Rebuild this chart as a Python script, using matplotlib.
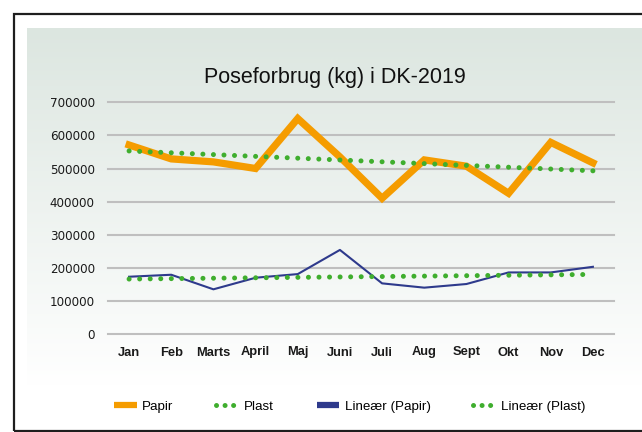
import matplotlib
matplotlib.use("Agg")
import matplotlib.pyplot as plt
import numpy as np
from matplotlib.lines import Line2D
from matplotlib.patches import Rectangle

months = ["Jan", "Feb", "Marts", "April", "Maj", "Juni", "Juli", "Aug", "Sept", "Okt", "Nov", "Dec"]
papir = [571000, 529000, 520000, 500000, 651000, 535000, 410000, 526000, 507000, 425000, 579000, 517000]
plast = [173000, 179000, 135000, 170000, 181000, 254000, 153000, 140000, 151000, 186000, 186000, 203000]
# trend lines, read at Jan and Dec
trend_papir = [553000, 493000]
trend_plast = [166000, 180000]
yticks = [0, 100000, 200000, 300000, 400000, 500000, 600000, 700000]

font = "Liberation Sans"
orange = "#f59c00"
navy = "#2e3a8c"
green = "#3fae2e"
dots = (0, (0.01, 2.1))

W, H = 642, 432
fig = plt.figure(figsize=(W / 100, H / 100), dpi=100)

# gradient panel behind the chart
bg = fig.add_axes([27 / W, (H - 386) / H, 1 - 27 / W, (386 - 28) / H], zorder=-10)
top = np.array([220, 230, 224]) / 255
bot = np.array([255, 255, 255]) / 255
t = np.linspace(0, 1, 256)[:, None]
grad = top * (1 - t) + bot * t
bg.imshow(grad[:, None, :], aspect="auto", extent=[0, 1, 0, 1])
bg.axis("off")

# outer frame
fig.patches.append(Rectangle((13.5 / W, 1.5 / H), 1.0, (430.5 - 13.5) / H, transform=fig.transFigure,
                             fill=False, edgecolor="#1e1e1e", linewidth=1.6, zorder=5))

ax = fig.add_axes([108 / W, (H - 334) / H, (614 - 108) / W, (334 - 102.3) / H])
ax.patch.set_alpha(0)
x = np.arange(len(months))

ax.plot(x, papir, color=orange, lw=5.2, solid_joinstyle="miter", zorder=3)
ax.plot(x, plast, color=navy, lw=1.5, zorder=3)
ax.plot([x[0], x[-1]], trend_papir, color=green, lw=3.6, linestyle=dots, dash_capstyle="round", zorder=4)
ax.plot([x[0], x[-1]], trend_plast, color=green, lw=3.6, linestyle=dots, dash_capstyle="round", zorder=4)

ax.set_xlim(-0.5, len(months) - 0.5)
ax.set_ylim(0, 700000)
ax.set_yticks(yticks)
ax.set_yticklabels([str(v) for v in yticks], fontsize=8.6, family="DejaVu Sans", color="#1a1a1a")
ax.set_xticks(x)
ax.set_xticklabels(months, fontsize=9.3, family=font, fontweight="bold", color="#1a1a1a")
ax.tick_params(length=0)
ax.tick_params(axis="y", pad=9.5)
ax.tick_params(axis="x", pad=9)
for s in ax.spines.values():
    s.set_visible(False)
ax.yaxis.grid(True, color="#bfbfbf", lw=1.5)
for gl in ax.get_ygridlines():
    gl.set_clip_on(False)
ax.set_axisbelow(True)

fig.text(335 / W, 1 - 78 / H, "Poseforbrug (kg) i DK-2019", ha="center", va="center",
         fontsize=15.5, family=font, color="#111111")

handles = [
    Line2D([], [], color=orange, lw=4.5, solid_capstyle="butt"),
    Line2D([], [], color=green, lw=3.6, linestyle=(0, (0.01, 1.7)), dash_capstyle="round"),
    Line2D([], [], color=navy, lw=4.5, solid_capstyle="butt"),
    Line2D([], [], color=green, lw=3.6, linestyle=(0, (0.01, 1.7)), dash_capstyle="round"),
]
labels = ["Papir", "Plast", "Lineær (Papir)", "Lineær (Plast)"]
fig.legend(handles, labels, loc="center", bbox_to_anchor=(350 / W, 1 - 406.5 / H), ncol=4,
           frameon=False, handlelength=1.7, handletextpad=0.4, columnspacing=3.2,
           prop={"family": font, "size": 9.6})

fig.savefig("out.png", dpi=100)
